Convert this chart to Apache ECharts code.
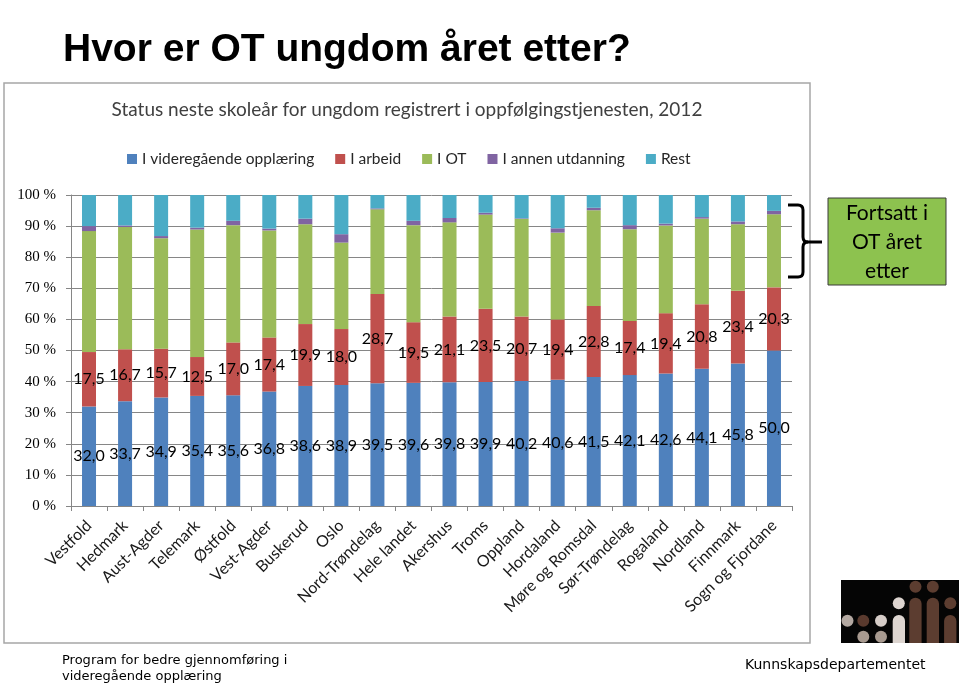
<!DOCTYPE html>
<html>
<head>
<meta charset="utf-8">
<script src="https://cdn.jsdelivr.net/npm/echarts@6/dist/echarts.min.js"></script>
<style>
html,body{margin:0;padding:0;background:#fff;}
#chart{width:960px;height:685px;}
</style>
</head>
<body>
<div id="chart"></div>
<script>
const categories = ['Vestfold','Hedmark','Aust-Agder','Telemark','Østfold','Vest-Agder','Buskerud','Oslo','Nord-Trøndelag','Hele landet','Akershus','Troms','Oppland','Hordaland','Møre og Romsdal','Sør-Trøndelag','Rogaland','Nordland','Finnmark','Sogn og Fjordane'];
const videregaende = [32.0,33.7,34.9,35.4,35.6,36.8,38.6,38.9,39.5,39.6,39.8,39.9,40.2,40.6,41.5,42.1,42.6,44.1,45.8,50.0];
const arbeid = [17.5,16.7,15.7,12.5,17.0,17.4,19.9,18.0,28.7,19.5,21.1,23.5,20.7,19.4,22.8,17.4,19.4,20.8,23.4,20.3];
const ot = [38.9,39.3,35.5,41.0,37.7,34.4,32.1,27.8,27.2,31.2,30.3,30.3,31.4,27.9,30.8,29.5,28.2,27.5,21.4,23.5];
const annenUtdanning = [1.6,0.5,0.7,0.6,1.4,0.6,1.8,2.7,0.3,1.4,1.4,0.6,0.2,1.4,0.8,1.3,0.6,0.5,0.9,1.1];
const rest = [10.0,9.8,13.2,10.5,8.3,10.8,7.6,12.6,4.3,8.3,7.4,5.7,7.5,10.7,4.1,9.7,9.2,7.1,8.5,5.1];
const seriesNames = ['I videregående opplæring','I arbeid','I OT','I annen utdanning','Rest'];
const yTicks = [0,10,20,30,40,50,60,70,80,90,100];

const colors = ['#4F81BD','#C0504D','#9BBB59','#8064A2','#4BACC6'];
const chart = echarts.init(document.getElementById('chart'), null, {renderer:'canvas'});

const labelStyle = {
  show: true, position: 'inside', color: '#000', fontFamily: 'Lato', fontSize: 16,
  formatter: p => p.value.toFixed(1).replace('.', ',')
};

function mk(name, data, idx, withLabel) {
  return {
    name, type: 'bar', stack: 's', data, barWidth: 14,
    itemStyle: {color: colors[idx]},
    label: withLabel ? labelStyle : {show:false},
    emphasis: {disabled: true}
  };
}

const bs = {stroke:'#000', lineWidth:3, fill:null};

chart.setOption({
  animation: false,
  backgroundColor: '#fff',
  color: colors,
  grid: {left: 71, right: 168, top: 195, bottom: 179, containLabel: false},
  legend: {
    data: seriesNames, top: 146, left: 122,
    itemWidth: 10, itemHeight: 10, itemGap: 21, icon: 'rect',
    textStyle: {fontFamily: 'Lato', fontSize: 15.5, color: '#262626'}
  },
  xAxis: {
    type: 'category', data: categories,
    axisLine: {lineStyle: {color: '#868686'}},
    axisTick: {show: true, length: 5, lineStyle: {color: '#868686'}},
    axisLabel: {rotate: 45, interval: 0, margin: 17, fontFamily: 'Lato', fontSize: 16, color: '#1a1a1a'}
  },
  yAxis: {
    type: 'value', min: 0, max: 100, interval: 10,
    axisLine: {show: true, lineStyle: {color: '#868686'}},
    axisTick: {show: true, length: 5, lineStyle: {color: '#868686'}},
    splitLine: {lineStyle: {color: '#868686'}},
    axisLabel: {formatter: v => yTicks.includes(v) ? v + ' %' : '', margin: 15, fontFamily: 'Liberation Serif', fontSize: 15, color: '#000'}
  },
  series: [
    mk(seriesNames[0], videregaende, 0, true),
    mk(seriesNames[1], arbeid, 1, true),
    mk(seriesNames[2], ot, 2, false),
    mk(seriesNames[3], annenUtdanning, 3, false),
    mk(seriesNames[4], rest, 4, false)
  ],
  graphic: [
    {type:'rect', z:-10, shape:{x:4, y:83, width:806, height:560}, style:{fill:'#fff', stroke:'#a6a6a6', lineWidth:1.5}},
    {type:'text', x:63, y:31, style:{text:'Hvor er OT ungdom året etter?', font:'bold 39px "Liberation Sans"', fill:'#000', textVerticalAlign:'alphabetic'}},
    {type:'text', x:407, y:100, style:{text:'Status neste skoleår for ungdom registrert i oppfølgingstjenesten, 2012', font:'19px Lato', fill:'#404040', textAlign:'center'}},
    {type:'polyline', shape:{points:[[788,205],[798,205]]}, style:bs},
    {type:'bezierCurve', shape:{x1:798,y1:205,cpx1:803,cpy1:205,x2:803,y2:210}, style:bs},
    {type:'polyline', shape:{points:[[803,210],[803,237]]}, style:bs},
    {type:'bezierCurve', shape:{x1:803,y1:237,cpx1:803,cpy1:242,x2:808,y2:242}, style:bs},
    {type:'polyline', shape:{points:[[808,242],[822,242]]}, style:bs},
    {type:'bezierCurve', shape:{x1:808,y1:242,cpx1:803,cpy1:242,x2:803,y2:247}, style:bs},
    {type:'polyline', shape:{points:[[803,247],[803,272]]}, style:bs},
    {type:'bezierCurve', shape:{x1:803,y1:272,cpx1:803,cpy1:277,x2:798,y2:277}, style:bs},
    {type:'polyline', shape:{points:[[798,277],[788,277]]}, style:bs},
    {type:'rect', shape:{x:828, y:198, width:118, height:87}, style:{fill:'#8DC24F', stroke:'#3a3a3a', lineWidth:1}},
    {type:'text', x:887, y:199, style:{text:'Fortsatt i\nOT året\netter', font:'21px Lato', fill:'#000', textAlign:'center', lineHeight:29}},
    {type:'rect', shape:{x:841, y:580, width:118, height:63}, style:{fill:'#050505'}},
    {type:'circle', shape:{cx:847.5, cy:620.7, r:6}, style:{fill:'#b3a8a1'}},
    {type:'circle', shape:{cx:863.3, cy:620.7, r:6}, style:{fill:'#5a3a2e'}},
    {type:'circle', shape:{cx:881, cy:620.7, r:6}, style:{fill:'#d6cdc8'}},
    {type:'circle', shape:{cx:863.3, cy:636.7, r:6}, style:{fill:'#a89a90'}},
    {type:'circle', shape:{cx:881, cy:636.7, r:6}, style:{fill:'#a89a90'}},
    {type:'circle', shape:{cx:898.8, cy:603.3, r:6}, style:{fill:'#ddd5d0'}},
    {type:'rect', shape:{x:892.7, y:615, width:12.3, height:28, r:[6,6,0,0]}, style:{fill:'#ddd5d0'}},
    {type:'circle', shape:{cx:915.5, cy:586.7, r:6}, style:{fill:'#5c3d30'}},
    {type:'rect', shape:{x:909.3, y:597.7, width:12.3, height:45.3, r:[6,6,0,0]}, style:{fill:'#5c3d30'}},
    {type:'circle', shape:{cx:932.8, cy:586.7, r:6}, style:{fill:'#5c3d30'}},
    {type:'rect', shape:{x:926.7, y:597.7, width:12.3, height:45.3, r:[6,6,0,0]}, style:{fill:'#5c3d30'}},
    {type:'circle', shape:{cx:950.3, cy:603.3, r:6}, style:{fill:'#5c3d30'}},
    {type:'rect', shape:{x:944.1, y:615, width:12.3, height:28, r:[6,6,0,0]}, style:{fill:'#5c3d30'}},
    {type:'text', x:62, y:653, style:{text:'Program for bedre gjennomføring i\nvideregående opplæring', font:'13px "DejaVu Sans"', fill:'#000', lineHeight:16}},
    {type:'text', x:745, y:658, style:{text:'Kunnskapsdepartementet', font:'14px "DejaVu Sans"', fill:'#000'}}
  ]
});
</script>
</body>
</html>
